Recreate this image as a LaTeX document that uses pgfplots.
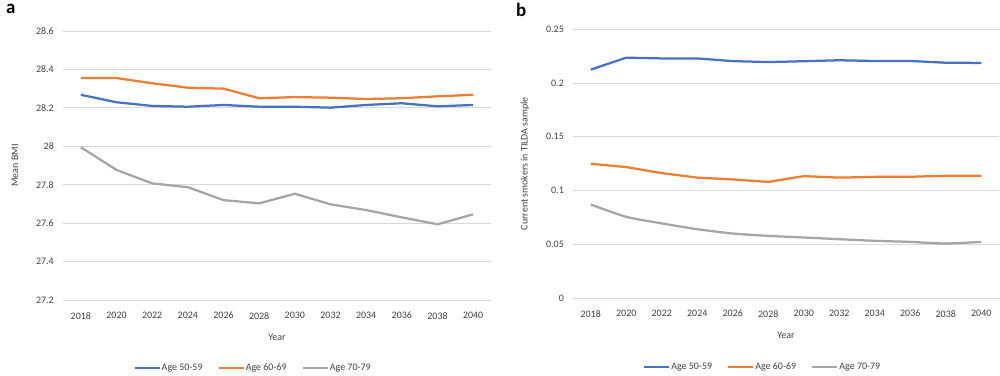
\documentclass[border=0pt]{standalone}
\usepackage{fontspec}
\setmainfont{Carlito}
\usepackage{pgfplots}
\usepackage{pgfplotstable}
\pgfplotsset{compat=1.18}
\definecolor{cBlue}{HTML}{4472C4}
\definecolor{cOrange}{HTML}{ED7D31}
\definecolor{cGray}{HTML}{A5A5A5}
\definecolor{cGrid}{HTML}{D9D9D9}
\definecolor{cText}{HTML}{404040}

\pgfplotstableread{
idx year a5059 a6069 a7079
0  2018 28.268 28.355 27.995
1  2020 28.229 28.355 27.877
2  2022 28.210 28.328 27.807
3  2024 28.206 28.305 27.787
4  2026 28.215 28.300 27.720
5  2028 28.206 28.250 27.703
6  2030 28.206 28.256 27.753
7  2032 28.201 28.253 27.698
8  2034 28.215 28.246 27.668
9  2036 28.224 28.250 27.630
10 2038 28.208 28.260 27.594
11 2040 28.215 28.268 27.646
}\bmitable

\pgfplotstableread{
idx year a5059 a6069 a7079
0  2018 0.2125 0.1249 0.0870
1  2020 0.2236 0.1218 0.0755
2  2022 0.2229 0.1162 0.0694
3  2024 0.2229 0.1120 0.0640
4  2026 0.2204 0.1103 0.0600
5  2028 0.2195 0.1080 0.0578
6  2030 0.2203 0.1134 0.0563
7  2032 0.2212 0.1120 0.0547
8  2034 0.2205 0.1127 0.0532
9  2036 0.2205 0.1128 0.0522
10 2038 0.2189 0.1137 0.0507
11 2040 0.2187 0.1137 0.0522
}\smoketable

\pgfplotsset{
  panel/.style={
    scale only axis,
    axis line style={draw=none},
    major tick length=0pt,
    ymajorgrids,
    grid style={cGrid, line width=0.8bp},
    xmin=-0.5, xmax=11.5,
    xtick={0,1,2,3,4,5,6,7,8,9,10,11},
    xticklabels={2018,2020,2022,2024,2026,2028,2030,2032,2034,2036,2038,2040},
    tick label style={font=\fontsize{10}{12}\selectfont, text=cText},
    yticklabel style={inner sep=0pt, anchor=east, xshift=-9bp},
    xticklabel style={inner sep=0pt, anchor=north, yshift=-12bp},
    label style={font=\fontsize{10}{12}\selectfont, text=cText},
    xlabel={Year},
    legend columns=3,
    legend cell align=left,
    legend style={draw=none, fill=none, font=\fontsize{10}{12}\selectfont, text=cText,
      /tikz/every even column/.append style={column sep=14bp},
      nodes={inner sep=1bp}},
    legend image code/.code={\draw[##1, line width=2.25bp] (0bp,0bp) -- (25bp,0bp);},
    every axis plot/.append style={line width=2.25bp, mark=none},
  }
}

\begin{document}
\begin{tikzpicture}
\path[use as bounding box] (0bp,0bp) rectangle (1000bp,376bp);

\begin{axis}[panel,
  at={(63bp,76bp)}, anchor=south west,
  width=428bp, height=269bp,
  ymin=27.2, ymax=28.6,
  ytick={27.2,27.4,27.6,27.8,28,28.2,28.4,28.6},
  yticklabels={27.2,27.4,27.6,27.8,28,28.2,28.4,28.6},
  ylabel={Mean BMI},
  ylabel style={at={(axis description cs:-0.112,0.5)}, anchor=center},
  xlabel style={at={(axis description cs:0.5,-0.1375)}, anchor=center},
  legend style={at={(axis description cs:0.443,-0.253)}, anchor=center},
]
\addplot[cBlue] table[x=idx, y=a5059] {\bmitable};
\addplot[cOrange] table[x=idx, y=a6069] {\bmitable};
\addplot[cGray] table[x=idx, y=a7079] {\bmitable};
\legend{Age 50-59, Age 60-69, Age 70-79}
\end{axis}

\begin{axis}[panel,
  at={(573bp,78bp)}, anchor=south west,
  width=426bp, height=268.7bp,
  ymin=0, ymax=0.25,
  ytick={0,0.05,0.1,0.15,0.2,0.25},
  yticklabels={0,0.05,0.1,0.15,0.2,0.25},
  ylabel={Current smokers in TILDA sample},
  ylabel style={at={(axis description cs:-0.1127,0.5)}, anchor=center},
  xlabel style={at={(axis description cs:0.5,-0.14)}, anchor=center},
  legend style={at={(axis description cs:0.444,-0.257)}, anchor=center},
]
\addplot[cBlue] table[x=idx, y=a5059] {\smoketable};
\addplot[cOrange] table[x=idx, y=a6069] {\smoketable};
\addplot[cGray, smooth, tension=0.4] table[x=idx, y=a7079] {\smoketable};
\legend{Age 50-59, Age 60-69, Age 70-79}
\end{axis}

\node[anchor=base west, inner sep=0pt, font=\fontsize{19}{22}\selectfont\bfseries] at (6bp,362bp) {a};
\node[anchor=base west, inner sep=0pt, font=\fontsize{19}{22}\selectfont\bfseries] at (516bp,359bp) {b};
\end{tikzpicture}
\end{document}
